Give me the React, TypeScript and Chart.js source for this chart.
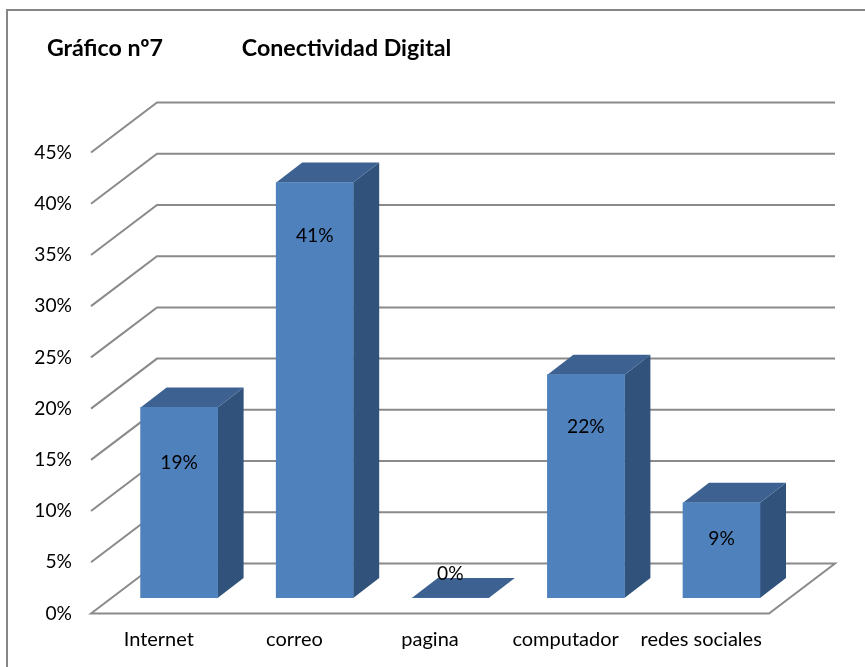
import React, { useEffect, useRef } from "react";
import { Chart, registerables } from "chart.js";

Chart.register(...registerables);

const categories = ["Internet", "correo", "pagina", "computador", "redes sociales"];
const percentValues = [18.6, 40.55, 0, 21.8, 9.3];
const valueLabels = ["19%", "41%", "0%", "22%", "9%"];
const labelDropFromTop = [55, 53, -24, 52, 36];
const NB = "\u00a0";
const chartTitle = `${NB.repeat(3)}Gráfico nº7${NB.repeat(14)}Conectividad Digital`;

const FONT = "Lato, 'Open Sans', sans-serif";
const GRID = "#8a8a8a";
const FRONT = "#4f81bd";
const TOP = "#3d6291";
const SIDE = "#31527b";
const WALL_DX = 66;
const WALL_DY = -50;
const BAR_SHIFT_X = 20.3;
const BAR_SHIFT_Y = -15.5;
const BAR_DX = 26;
const BAR_DY = -20;

const poly = (ctx: CanvasRenderingContext2D, pts: number[][], fill: string) => {
  ctx.beginPath();
  pts.forEach(([x, y], i) => (i ? ctx.lineTo(x, y) : ctx.moveTo(x, y)));
  ctx.closePath();
  ctx.fillStyle = fill;
  ctx.fill();
};

const depthPlugin = {
  id: "depth3d",
  beforeDatasetsDraw(chart: any) {
    const { ctx, scales, chartArea } = chart;
    const yScale = scales.y;
    // chart frame
    ctx.save();
    ctx.strokeStyle = "#868686";
    ctx.lineWidth = 2;
    ctx.beginPath();
    ctx.moveTo(7, chart.height);
    ctx.lineTo(7, 10);
    ctx.lineTo(chart.width, 10);
    ctx.stroke();
    // walls and floor
    ctx.strokeStyle = GRID;
    ctx.lineWidth = 2;
    ctx.lineJoin = "miter";
    yScale.ticks.forEach((t: any) => {
      const y = yScale.getPixelForValue(t.value);
      ctx.beginPath();
      ctx.moveTo(chartArea.left, y);
      ctx.lineTo(chartArea.left + WALL_DX, y + WALL_DY);
      ctx.lineTo(chartArea.right + WALL_DX, y + WALL_DY);
      if (t.value === 0) {
        ctx.lineTo(chartArea.right, y);
        ctx.closePath();
      }
      ctx.stroke();
    });
    // side and top faces of the bars
    const bars = chart.getDatasetMeta(0).data;
    bars.forEach((bar: any) => {
      const left = bar.x - bar.width / 2 + BAR_SHIFT_X;
      const right = bar.x + bar.width / 2 + BAR_SHIFT_X;
      const top = bar.y + BAR_SHIFT_Y;
      const bottom = bar.base + BAR_SHIFT_Y;
      if (bottom - top > 0.5) {
        poly(ctx, [[right, top], [right + BAR_DX, top + BAR_DY], [right + BAR_DX, bottom + BAR_DY], [right, bottom]], SIDE);
      }
      poly(ctx, [[left, top], [left + BAR_DX, top + BAR_DY], [right + BAR_DX, top + BAR_DY], [right, top]], TOP);
    });
    ctx.restore();
  },
  beforeDatasetDraw(chart: any) {
    chart.ctx.save();
    chart.ctx.translate(BAR_SHIFT_X, BAR_SHIFT_Y);
  },
  afterDatasetDraw(chart: any) {
    chart.ctx.restore();
  },
  afterDatasetsDraw(chart: any) {
    const { ctx } = chart;
    ctx.save();
    ctx.font = `19.2px ${FONT}`;
    ctx.fillStyle = "#000";
    ctx.textAlign = "center";
    ctx.textBaseline = "middle";
    chart.getDatasetMeta(0).data.forEach((bar: any, i: number) => {
      ctx.fillText(valueLabels[i], bar.x + BAR_SHIFT_X, bar.y + BAR_SHIFT_Y + labelDropFromTop[i]);
    });
    ctx.restore();
  },
};

export default function App() {
  const ref = useRef<HTMLCanvasElement>(null);
  useEffect(() => {
    const chart = new Chart(ref.current!, {
      type: "bar",
      data: {
        labels: categories,
        datasets: [{ data: percentValues, backgroundColor: FRONT, barThickness: 77, borderWidth: 0 }],
      },
      options: {
        responsive: false,
        animation: false,
        layout: { padding: { left: 30, right: 96, top: 0, bottom: 0 } },
        plugins: {
          legend: { display: false },
          tooltip: { enabled: false },
          title: {
            display: true,
            text: chartTitle,
            align: "start",
            color: "#000",
            font: { family: FONT, size: 23.2, weight: "bold", lineHeight: 1.2 },
            padding: { top: 35, bottom: 89.66 },
          },
        },
        scales: {
          x: {
            grid: { display: false, drawTicks: false },
            border: { display: false },
            ticks: { color: "#000", font: { family: FONT, size: 20 }, padding: 14.5, maxRotation: 0, autoSkip: false },
            afterFit: (s: any) => { s.height = 53.5; },
          },
          y: {
            min: 0,
            max: 45,
            grid: { display: false, drawTicks: false },
            border: { display: false },
            ticks: {
              stepSize: 5,
              color: "#000",
              font: { family: FONT, size: 19.2 },
              padding: 19,
              callback: (v: any) => `${v}%`,
            },
            afterFit: (s: any) => { s.width = 61; },
          },
        },
      },
      plugins: [depthPlugin],
    } as any);
    return () => chart.destroy();
  }, []);
  return (
    <div style={{ position: "absolute", left: 0, top: 0, width: 865, height: 667, background: "#fff" }}>
      <canvas ref={ref} width={865} height={667} style={{ display: "block" }} />
    </div>
  );
}
